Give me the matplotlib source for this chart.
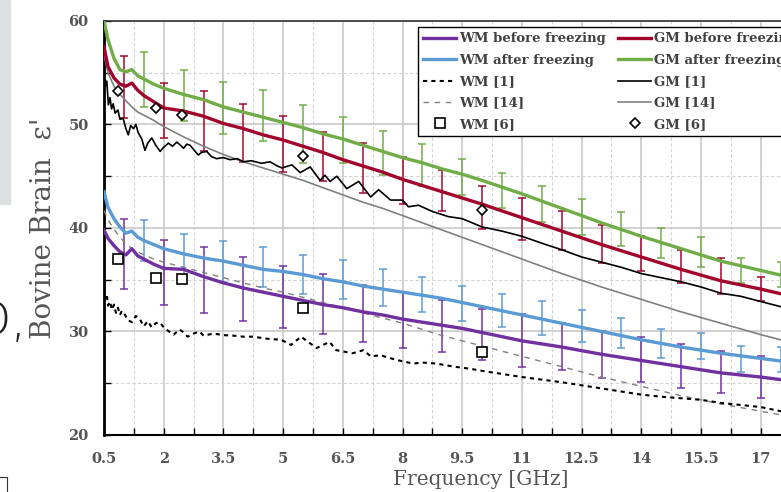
import matplotlib.pyplot as plt
from matplotlib.patches import Rectangle
from matplotlib.ticker import MultipleLocator, FixedLocator

# smooth measured curves (GHz, relative permittivity)
freq = [0.5, 0.6, 0.75, 0.9, 1.05, 1.2, 1.35, 1.5, 1.75, 2.0, 2.5, 3.0, 3.5, 4.0, 4.5,
        5.0, 5.5, 6.0, 6.5, 7.0, 7.5, 8.0, 8.5, 9.0, 9.5, 10, 11, 12, 13, 14, 15, 16, 17, 18]

wm_before = [39.8, 39.0, 38.3, 37.7, 37.4, 38.0, 37.3, 37.0, 36.5, 36.1, 36.0, 35.3, 34.7, 34.2, 33.8,
             33.4, 33.0, 32.6, 32.3, 31.9, 31.6, 31.2, 30.9, 30.6, 30.3, 29.9, 29.1, 28.5, 27.8, 27.2,
             26.6, 26.0, 25.6, 25.1]
wm_after = [43.5, 42.0, 40.9, 40.1, 39.5, 39.7, 39.1, 38.8, 38.4, 38.0, 37.5, 37.1, 36.8, 36.4, 36.0,
            35.8, 35.5, 35.1, 34.8, 34.4, 34.1, 33.8, 33.5, 33.2, 32.8, 32.4, 31.6, 30.8, 30.0, 29.2,
            28.5, 27.9, 27.4, 26.9]
gm_before = [57.5, 55.6, 54.5, 53.9, 53.7, 54.0, 53.3, 52.8, 52.2, 51.6, 51.3, 50.8, 50.1, 49.6, 49.0,
             48.5, 47.9, 47.3, 46.6, 46.0, 45.4, 44.7, 44.1, 43.5, 42.9, 42.3, 41.0, 39.7, 38.4, 37.2,
             36.0, 34.9, 34.1, 33.2]
gm_after = [60.0, 58.2, 56.4, 55.3, 55.1, 55.3, 54.7, 54.4, 53.9, 53.5, 52.9, 52.4, 51.7, 51.2, 50.7,
            50.2, 49.7, 49.1, 48.6, 48.0, 47.4, 46.8, 46.3, 45.7, 45.2, 44.6, 43.3, 41.9, 40.5, 39.2,
            38.0, 36.8, 35.9, 35.0]
wm_ref14 = [41.7, 40.8, 39.9, 39.1, 38.5, 38.0, 37.7, 37.4, 37.0, 36.7, 36.2, 35.7, 35.2, 34.7, 34.2,
            33.8, 33.3, 32.8, 32.3, 31.8, 31.3, 30.8, 30.2, 29.6, 29.1, 28.6, 27.6, 26.6, 25.6, 24.7,
            23.8, 23.0, 22.3, 21.6]
gm_ref14 = [56.8, 55.0, 53.7, 52.9, 52.3, 51.7, 51.2, 50.9, 50.4, 49.8, 48.8, 47.9, 47.1, 46.4, 45.8,
            45.2, 44.6, 43.9, 43.2, 42.5, 41.9, 41.2, 40.5, 39.8, 39.1, 38.4, 37.0, 35.6, 34.3, 33.1,
            31.9, 30.8, 29.7, 28.7]

# noisy reference [1]
gm1_freq = [0.5, 0.53, 0.57, 0.61, 0.65, 0.69, 0.73, 0.78, 0.85, 0.9, 0.98, 1.05, 1.11, 1.17, 1.24,
            1.3, 1.36, 1.45, 1.53, 1.6, 1.7, 1.8, 1.91, 2.0, 2.12, 2.22, 2.33, 2.42, 2.5, 2.58, 2.66,
            2.77, 2.87, 2.95, 3.08, 3.2, 3.33, 3.5, 3.67, 3.85, 4.0, 4.2, 4.46, 4.67, 4.85, 4.97,
            5.22, 5.43, 5.68, 5.93, 6.05, 6.18, 6.35, 6.6, 6.9, 7.2, 7.4, 7.7, 8.0, 8.15, 8.4, 8.75,
            9.15, 9.5, 10.0, 10.5, 11.0, 11.6, 12.0, 12.5, 13.0, 13.5, 14.0, 14.5, 15.0, 15.5, 16.0,
            16.5, 17.0, 17.5, 18.0]
gm1 = [55.0, 53.7, 54.2, 51.9, 52.6, 51.5, 52.0, 51.1, 51.4, 50.5, 50.6, 49.6, 49.0, 49.9, 49.6,
       50.0, 49.2, 48.6, 47.5, 48.2, 48.7, 48.0, 47.4, 47.8, 48.2, 47.9, 48.3, 48.0, 47.7, 48.1, 48.0,
       47.5, 47.05, 47.3, 47.4, 46.9, 46.7, 46.8, 46.6, 46.7, 46.4, 46.5, 46.25, 46.4, 46.0, 45.8,
       46.1, 45.35, 45.9, 44.6, 45.1, 44.5, 45.0, 43.8, 44.5, 43.0, 43.7, 42.7, 42.7, 42.05, 42.2, 41.6,
       41.1, 40.9, 40.1, 39.7, 39.2, 38.4, 37.9, 37.2, 36.7, 36.2, 35.6, 35.2, 34.8, 34.3, 33.7,
       33.4, 32.9, 32.4, 32.0]

wm1_freq = [0.5, 0.53, 0.57, 0.6, 0.65, 0.7, 0.75, 0.8, 0.85, 0.9, 0.95, 1.0, 1.1, 1.2, 1.3, 1.4,
            1.5, 1.6, 1.7, 1.8, 1.9, 2.0, 2.1, 2.25, 2.4, 2.5, 2.6, 2.75, 2.9, 3.0, 3.25, 3.5, 3.75,
            4.0, 4.24, 4.6, 4.95, 5.2, 5.45, 5.84, 6.17, 6.33, 6.75, 7.02, 7.2, 7.45, 7.85, 8.27,
            8.5, 8.85, 9.3, 9.7, 10.0, 10.5, 11.0, 11.6, 12.0, 12.5, 13.0, 13.5, 14.0, 14.5, 15.0,
            15.5, 16.0, 16.5, 17.0, 17.5, 18.0]
wm1 = [34.2, 33.2, 33.6, 32.5, 32.9, 32.1, 32.6, 31.8, 32.3, 31.6, 32.0, 31.8, 31.1, 30.9, 31.5, 31.2,
       30.5, 31.0, 30.4, 30.8, 30.9, 30.4, 30.1, 29.7, 30.2, 29.9, 29.5, 29.8, 30.0, 29.6, 29.8, 29.65, 29.6,
       29.5, 29.5, 29.3, 29.2, 28.7, 29.5, 28.4, 29.0, 28.2, 27.9, 28.2, 27.6, 27.7, 27.25, 26.9,
       27.0, 26.9, 26.6, 26.4, 26.2, 25.9, 25.6, 25.3, 25.1, 24.8, 24.5, 24.2, 23.9, 23.7, 23.55,
       23.4, 23.1, 22.9, 22.7, 22.3, 22.0]

# reference [6] points
ref6_freq = [0.85, 1.8, 2.45, 5.5, 10.0]
wm_ref6 = [37.0, 35.2, 35.05, 32.3, 28.0]
gm_ref6 = [53.2, 51.6, 50.9, 47.0, 41.7]

# error bars: "before" at integer GHz, "after" at half GHz
bar_int = list(range(1, 18))
bar_half = [1.5, 2.5, 3.5, 4.5, 5.5, 6.5, 7.5, 8.5, 9.5, 10.5, 11.5, 12.5, 13.5, 14.5, 15.5, 16.5, 17.5]
wm_before_c = [37.5, 35.7, 35.0, 34.1, 33.3, 32.7, 31.75, 31.1, 30.5, 29.7, 29.15, 28.55, 27.75, 27.3, 26.65, 26.1, 25.6]
wm_before_e = [3.4, 3.1, 3.2, 3.1, 3.0, 2.9, 2.75, 2.7, 2.5, 2.5, 2.55, 2.25, 2.25, 2.2, 2.15, 2.0, 2.0]
gm_before_c = [53.6, 51.35, 50.3, 49.2, 48.1, 46.9, 45.8, 44.6, 43.6, 42.0, 40.85, 39.75, 38.45, 37.5, 36.3, 35.35, 34.1]
gm_before_e = [3.0, 2.65, 2.9, 2.8, 2.7, 2.4, 2.45, 2.3, 2.0, 2.05, 2.05, 1.85, 1.85, 1.7, 1.6, 1.75, 1.2]
wm_after_c = [38.8, 37.4, 36.75, 36.25, 35.5, 35.0, 34.25, 33.6, 32.7, 32.0, 31.3, 30.55, 29.85, 28.8, 28.6, 27.35, 27.3]
wm_after_e = [2.0, 2.0, 1.95, 1.95, 1.9, 1.9, 1.75, 1.7, 1.7, 1.6, 1.6, 1.55, 1.45, 1.4, 1.3, 1.25, 1.2]
gm_after_c = [54.35, 52.8, 51.6, 50.85, 49.1, 48.5, 47.25, 46.1, 44.95, 43.6, 42.35, 41.05, 39.9, 38.55, 37.65, 35.9, 35.5]
gm_after_e = [2.65, 2.5, 2.5, 2.45, 2.8, 2.2, 2.15, 2.0, 1.75, 1.7, 1.75, 1.75, 1.6, 1.45, 1.45, 1.2, 1.2]

xtick_vals = [0.5, 2, 3.5, 5, 6.5, 8, 9.5, 11, 12.5, 14, 15.5, 17]

PURPLE = '#7030a0'
BLUE = '#5b9bd5'
RED = '#a2042c'
GREEN = '#70ad47'
GREY = '#808080'
TXT = '#555555'

fig = plt.figure(figsize=(7.81, 4.92), dpi=100)
W, H = 781, 492
ax = fig.add_axes([104 / W, 57 / H, 696.5 / W, 414 / H])

# bits of the surrounding page
fig.patches.append(Rectangle((0, 1 - 204 / H), 10 / W, 204 / H, transform=fig.transFigure,
                             color='#dde1e1', zorder=0))
fig.text(27 / W, 1 - 336 / H, 'D,', ha='right', va='baseline', fontsize=36,
         family='DejaVu Sans', fontweight='light', color='#222222')
fig.patches.append(Rectangle((-10 / W, -8 / H), 17 / W, 23 / H, transform=fig.transFigure,
                             fill=False, ec='#333333', lw=0.8))

ekw = dict(fmt='none', capsize=3, elinewidth=1.2, capthick=1.2, zorder=2, alpha=0.9)
ax.errorbar(bar_int, wm_before_c, yerr=wm_before_e, ecolor=PURPLE, **ekw)
ax.errorbar(bar_int, gm_before_c, yerr=gm_before_e, ecolor=RED, **ekw)
ax.errorbar(bar_half, wm_after_c, yerr=wm_after_e, ecolor=BLUE, **ekw)
ax.errorbar(bar_half, gm_after_c, yerr=gm_after_e, ecolor=GREEN, **ekw)

h_wm14, = ax.plot(freq, wm_ref14, color=GREY, lw=1.0, ls=(0, (4, 4)), zorder=3, label='WM [14]')
h_gm14, = ax.plot(freq, gm_ref14, color=GREY, lw=1.2, zorder=3, label='GM [14]')
h_wm1, = ax.plot(wm1_freq, wm1, color='black', lw=1.5, ls=(0, (2, 2)), zorder=3, label='WM [1]')
h_gm1, = ax.plot(gm1_freq, gm1, color='black', lw=1.2, zorder=3, label='GM [1]')

h_wmb, = ax.plot(freq, wm_before, color=PURPLE, lw=2.4, zorder=4, label='WM before freezing')
h_wma, = ax.plot(freq, wm_after, color=BLUE, lw=2.4, zorder=4, label='WM after freezing')
h_gmb, = ax.plot(freq, gm_before, color=RED, lw=2.4, zorder=4, label='GM before freezing')
h_gma, = ax.plot(freq, gm_after, color=GREEN, lw=2.4, zorder=4, label='GM after freezing')

h_wm6, = ax.plot(ref6_freq, wm_ref6, ls='none', marker='s', ms=6.5, mfc='white', mec='black',
                 mew=1.2, zorder=5, label='WM [6]')
h_gm6, = ax.plot(ref6_freq, gm_ref6, ls='none', marker='D', ms=5.5, mfc='white', mec='black',
                 mew=1.2, zorder=5, label='GM [6]')

ax.set_xlim(0.5, 18)
ax.set_ylim(20, 60)
ax.xaxis.set_major_locator(FixedLocator(xtick_vals))
ax.xaxis.set_minor_locator(FixedLocator([v + 0.75 for v in xtick_vals]))
ax.set_xticklabels(['%g' % v for v in xtick_vals])
ax.yaxis.set_major_locator(MultipleLocator(10))
ax.yaxis.set_minor_locator(MultipleLocator(5))

ax.grid(which='major', color='#c9c9c9', lw=1.2, zorder=0)
ax.grid(which='minor', color='#d4d4d4', lw=0.8, ls=(0, (3, 2)), zorder=0)
ax.set_axisbelow(True)

ax.tick_params(which='both', direction='in', length=5, width=1, color='black',
               top=False, right=False)
ax.tick_params(axis='x', which='major', labelsize=10.5, labelcolor=TXT, pad=12.5)
ax.tick_params(axis='y', which='major', labelsize=10.5, labelcolor=TXT, pad=11)
for lab in ax.get_xticklabels() + ax.get_yticklabels():
    lab.set_family('DejaVu Serif')
    lab.set_fontweight('bold')

ax.spines['left'].set_linewidth(2)
ax.spines['bottom'].set_linewidth(1.5)
ax.spines['top'].set_color('#333333')
ax.spines['top'].set_linewidth(1.2)
ax.spines['right'].set_visible(False)

ax.set_xlabel('Frequency [GHz]', family='DejaVu Serif', fontsize=14.5, color=TXT)
ax.xaxis.set_label_coords(0.541, -0.085)
ax.set_ylabel("Bovine Brain  ε'", family='DejaVu Serif', fontsize=20, color=TXT)
ax.yaxis.set_label_coords(-0.068, 0.5)

handles = [h_wmb, h_wma, h_wm1, h_wm14, h_wm6, h_gmb, h_gma, h_gm1, h_gm14, h_gm6]
leg = ax.legend(handles=handles, loc='upper left', bbox_to_anchor=((418 - 104) / 696.5, 1 - 6 / 414),
                ncol=2, frameon=True, fancybox=False, framealpha=1, edgecolor='black',
                borderaxespad=0, borderpad=0.4, handlelength=2.5, handletextpad=0.25,
                columnspacing=0.9, labelspacing=0.64,
                prop={'family': 'DejaVu Serif', 'weight': 'bold', 'size': 9.5})
leg.get_frame().set_linewidth(1.0)
for t in leg.get_texts():
    t.set_color('#404040')
leg.set_zorder(10)

fig.savefig('out.png', dpi=100)
